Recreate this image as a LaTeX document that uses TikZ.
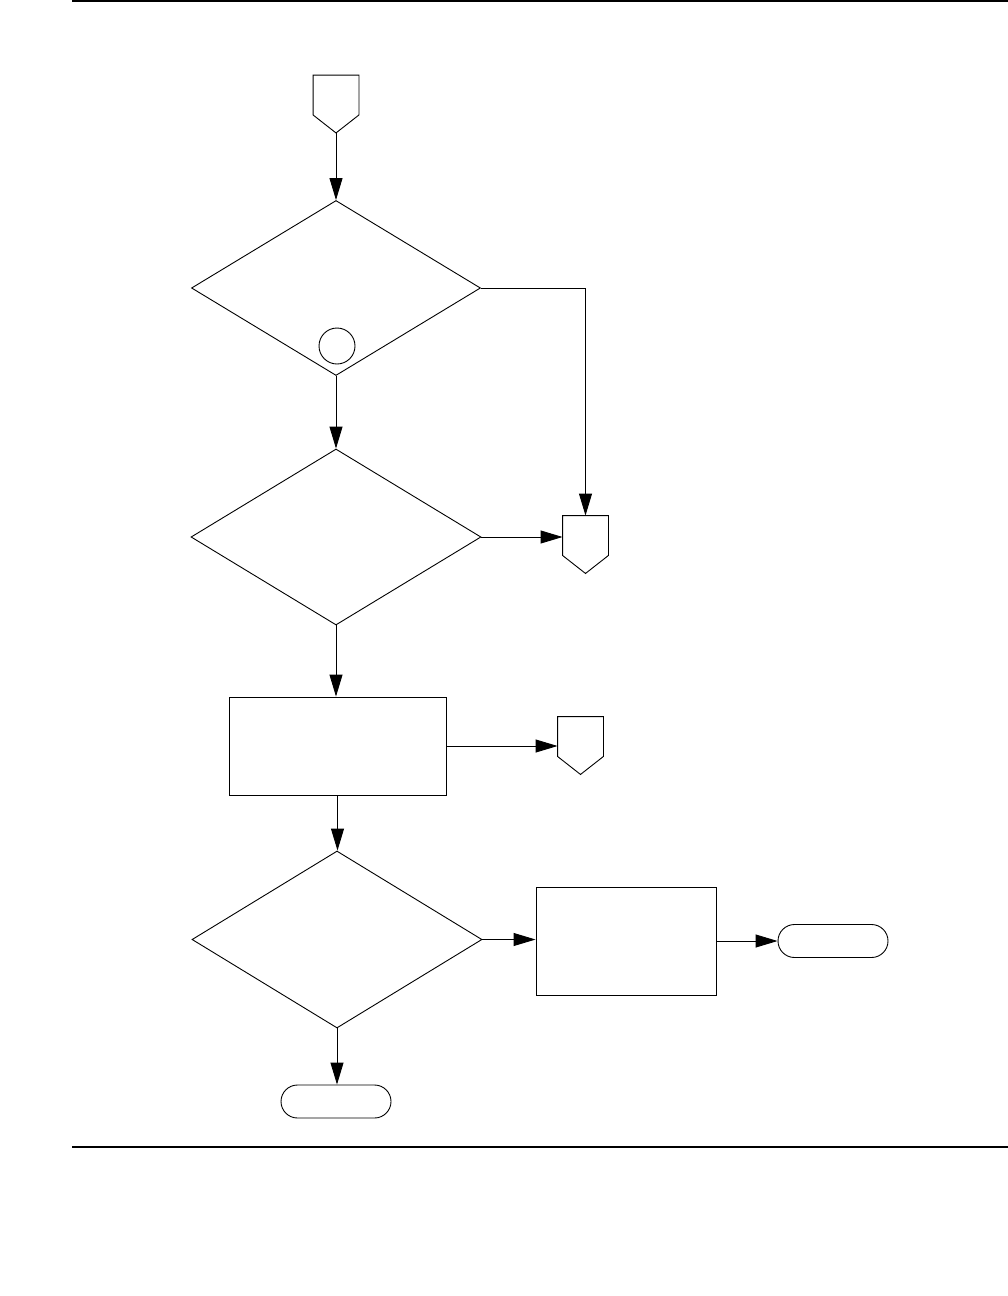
\documentclass[tikz,border=0pt]{standalone}
\usetikzlibrary{shapes.geometric,shapes.misc,arrows.meta,calc}
\begin{document}
\begin{tikzpicture}[x=1pt,y=-1pt, line width=0.9pt,
  arr/.style={-{Triangle[length=22pt,width=13pt]}},
  dia/.style={diamond, draw, inner sep=0pt, minimum width=290pt, minimum height=176pt},
  box/.style={rectangle, draw, inner sep=0pt},
  term/.style={rounded rectangle, draw, inner sep=0pt, minimum width=110pt, minimum height=33pt},
  offp/.style={rectangle, inner sep=0pt, minimum width=45pt, minimum height=57pt},
  rule/.style={line width=2pt}]
\useasboundingbox (0,0) rectangle (1008,1296);
% page rules
\draw[rule] (72,1) -- (1008,1);
\draw[rule] (72,1147) -- (1008,1147);
% nodes
\node[offp] (c1) at (336,104) {};
\node[dia, minimum width=289pt, minimum height=175pt] (d1) at (336,288) {};
\node[circle, draw, inner sep=0pt, minimum size=36pt] (k1) at (337,346) {};
\node[dia] (d2) at (336,537) {};
\node[offp] (c2) at (585.5,544.5) {};
\node[box, minimum width=217pt, minimum height=98pt] (r1) at (337.5,746) {};
\node[offp] (c3) at (580.5,745.5) {};
\node[dia, minimum height=177pt] (d3) at (337,939.5) {};
\node[box, minimum width=180pt, minimum height=108pt] (r2) at (626,941) {};
\node[term] (t1) at (833,941) {};
\node[term] (t2) at (336,1101.5) {};
% off-page connector outlines
\foreach \c in {c1,c2,c3}{
  \draw (\c.north west) -- (\c.north east) -- ([yshift=18pt]\c.south east)
        -- (\c.south) -- ([yshift=18pt]\c.south west) -- cycle;
}
% connectors
\draw[arr] (c1.south) -- (c1.south |- d1.north);
\draw[arr] (d1.south) -- (d1.south |- d2.north);
\draw[arr] (d1.east) -| (c2.north);
\draw[arr] (d2.east) -- (d2.east -| c2.west);
\draw[arr] (d2.south) -- (d2.south |- r1.north);
\draw[arr] (r1.east) -- (r1.east -| c3.west);
\draw[arr] (r1.south) -- (r1.south |- d3.north);
\draw[arr] (d3.east) -- (r2.west |- d3.east);
\draw[arr] (r2.east) -- (t1.west);
\draw[arr] (d3.south) -- (d3.south |- t2.north);
\end{tikzpicture}
\end{document}
